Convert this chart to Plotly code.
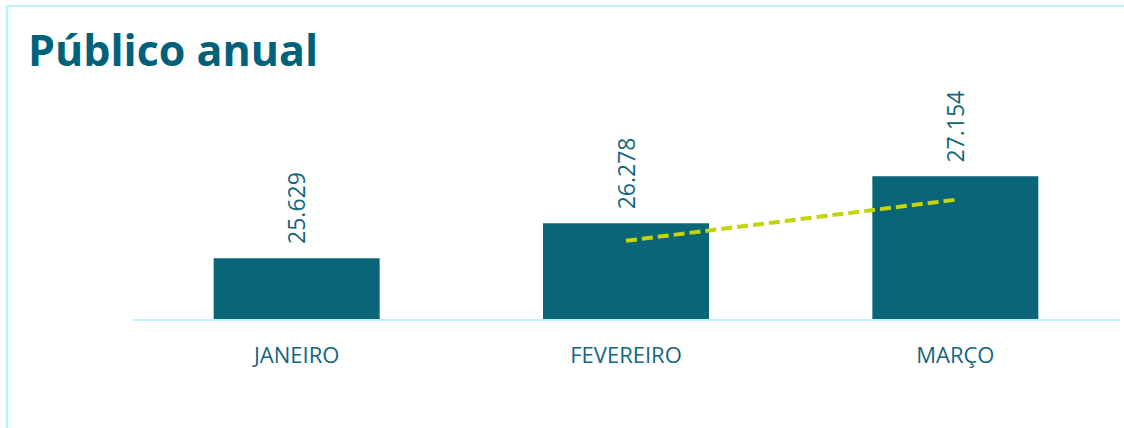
import plotly.graph_objects as go

# ---- data ----
months = ["JANEIRO", "FEVEREIRO", "MARÇO"]
publico = [25629, 26278, 27154]
# 2-period moving average (trend line)
media_movel = [None, (25629 + 26278) / 2, (26278 + 27154) / 2]
title_text = "Público anual"

TEAL = "#00627a"
LABEL = "#14667c"
FRAME = "#bff3fb"
LIME = "#c4d600"

fig = go.Figure()

fig.add_trace(go.Bar(
    x=months, y=publico,
    marker=dict(color="#0a6579", line=dict(width=0)),
    hoverinfo="x+y",
    showlegend=False,
))

fig.add_trace(go.Scatter(
    x=months, y=media_movel,
    mode="lines",
    line=dict(color=LIME, width=4, dash="11px,5px"),
    connectgaps=False,
    showlegend=False,
    hoverinfo="skip",
))

for m, v in zip(months, publico):
    fig.add_annotation(
        x=m, y=v, xref="x", yref="y",
        text=f"{v:,}".replace(",", "."),
        textangle=-90,
        showarrow=False,
        yanchor="bottom", xanchor="center",
        yshift=12,
        font=dict(family="Open Sans", size=23, color=LABEL),
    )

L, R, T, B = 132, 4, 90, 109
W, H = 1124, 428
pw, ph = W - L - R, H - T - B

def px_to_paper_x(px):
    return (px - L) / pw

def px_to_paper_y(py):
    return (H - B - py) / ph

# card frame: left and top edges
fig.add_shape(type="line", xref="paper", yref="paper",
              x0=px_to_paper_x(7), x1=px_to_paper_x(7),
              y0=px_to_paper_y(6), y1=px_to_paper_y(440),
              line=dict(color=FRAME, width=2.5))
fig.add_shape(type="line", xref="paper", yref="paper",
              x0=px_to_paper_x(6), x1=px_to_paper_x(1130),
              y0=px_to_paper_y(6), y1=px_to_paper_y(6),
              line=dict(color=FRAME, width=2))

fig.update_layout(
    width=W, height=H,
    margin=dict(l=L, r=R, t=T, b=B),
    paper_bgcolor="white", plot_bgcolor="white",
    separators=",.",
    bargap=0.496,
    title=dict(
        text="<b>" + title_text + "</b>",
        x=28 / W, xref="container", xanchor="left",
        y=1 - 51 / H, yref="container", yanchor="middle",
        font=dict(family="Open Sans", size=43, color=TEAL),
    ),
    xaxis=dict(
        showline=True, linecolor=FRAME, linewidth=2,
        showgrid=False, zeroline=False, ticks="",
        ticklabelstandoff=16,
        tickfont=dict(family="Open Sans", size=22, color=LABEL),
        fixedrange=True,
    ),
    yaxis=dict(
        visible=False, range=[24500, 24500 + ph / 0.0538],
        showgrid=False, zeroline=False, fixedrange=True,
    ),
)

fig.write_html(
    "out.html",
    config={"displayModeBar": False},
    post_script="document.body.style.margin='0px';document.body.style.overflow='hidden';",
)
